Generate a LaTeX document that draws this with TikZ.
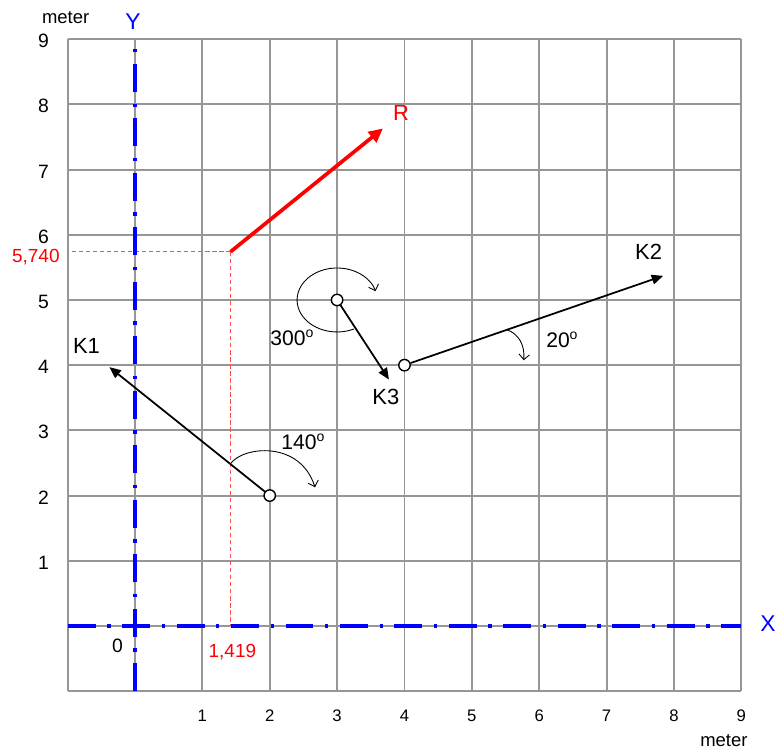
\documentclass[tikz,border=0pt]{standalone}
\usepackage{fontspec}
\setmainfont{Liberation Sans}
\usetikzlibrary{arrows.meta,calc}
\definecolor{gridgray}{RGB}{150,150,150}

\begin{document}
\begin{tikzpicture}[x=1.3474cm,y=1.304cm,
    axisline/.style={blue,line width=2.2pt,dash pattern=on 15.9pt off 6.6pt on 1.9pt off 6.6pt},
    vec/.style={-{Triangle[length=6.5pt,width=5.5pt]},line width=1pt},
    resvec/.style={red,-{Triangle[length=8pt,width=7.5pt]},line width=2.1pt},
    turn/.style={-{Straight Barb[length=3pt,width=6pt]},line width=0.5pt},
    joint/.style={circle,draw,fill=white,inner sep=0pt,minimum size=6.5pt,line width=0.8pt},
    proj/.style={red!70,dash pattern=on 2.5pt off 1.5pt,line width=0.4pt},
    lbl/.style={inner sep=0pt,anchor=base west,font=\fontsize{12.5}{14}\selectfont},
    anglbl/.style={inner sep=0pt,anchor=base west,font=\fontsize{12}{14}\selectfont},
    vallbl/.style={inner sep=0pt,anchor=base west,red,font=\fontsize{10.8}{13}\selectfont},
    unitlbl/.style={inner sep=0pt,anchor=base west,font=\fontsize{10.5}{12}\selectfont}]
    \useasboundingbox (-2.004,-1.887) rectangle (9.515,9.601);
    %Points
    \coordinate (xs) at (-1,0);
    \coordinate (xe) at (9,0);
    \coordinate (ys) at (0,-1);
    \coordinate (ye) at (0,9);
    \coordinate (Rs) at (1.419,5.740);
    \coordinate (Rtip) at (3.68,7.63);
    \coordinate (Ry) at (-1,5.740);
    \coordinate (Rx) at (1.419,0);
    \coordinate (K1tip) at (-0.38,3.97);
    \coordinate (K2tip) at (7.84,5.37);
    \coordinate (K3tip) at (3.77,3.78);
    %Grid
    \foreach \i in {-1,...,9} {
        \draw[gridgray,line width=1.1pt] (\i,-1) -- (\i,9);
        \draw[gridgray,line width=1.1pt] (-1,\i) -- (9,\i);
    }
    %Projection
    \draw[proj] (Rs) -- (Ry);
    \draw[proj] (Rs) -- (Rx);
    %Axis
    \draw[axisline] (xs) -- (xe);
    \draw[axisline] (ys) -- (ye);
    \node[blue,inner sep=0pt,anchor=base west,font=\fontsize{13}{15}\selectfont] (xlab) at (9.277,-0.087) {X};
    \node[blue,inner sep=0pt,anchor=base,font=\fontsize{13}{15}\selectfont] (ylab) at (-0.03,9.15) {Y};
    \foreach \i in {1,...,9} {
        \node[inner sep=0pt,anchor=base,font=\fontsize{9.5}{11}\selectfont] (xt\i) at (\i,-1.47) {\i};
        \node[inner sep=0pt,anchor=east,font=\fontsize{11}{13}\selectfont] (yt\i) at (-1.272,\i-0.03) {\i};
    }
    \node[inner sep=0pt,anchor=base west,font=\fontsize{11}{13}\selectfont] (zero) at (-0.346,-0.41) {0};
    \node[unitlbl] (munit1) at (-1.385,9.233) {meter};
    \node[unitlbl] (munit2) at (8.387,-1.851) {meter};
    %Joints
    \node[joint] (J1) at (2,2) {};
    \node[joint] (J2) at (4,4) {};
    \node[joint] (J3) at (3,5) {};
    %Vectors
    \draw[vec] (J1) -- (K1tip);
    \draw[vec] (J2) -- (K2tip);
    \draw[vec] (J3) -- (K3tip);
    \draw[resvec] (Rs) -- (Rtip);
    %Angles
    \coordinate (a1s) at ($(J1.center)!0.246!(K1tip)$);
    \coordinate (a1e) at (2.672,2.127);
    \draw[turn] (a1s) .. controls (1.60,2.76) and (2.45,2.85) .. (a1e);
    \coordinate (a2s) at ($(J2.center)!0.396!(K2tip)$);
    \coordinate (a2e) at (5.77,4.075);
    \draw[turn] (a2s) .. controls (5.70,4.48) and (5.79,4.30) .. (a2e);
    \draw[turn] ([shift={(-65:0.8cm and 0.64cm)}]J3.center) arc[start angle=-65,end angle=-344,x radius=0.8cm,y radius=0.64cm];
    %Labels
    \node[lbl] (K1) at (-0.925,4.18) {K1};
    \node[lbl] (K2) at (7.42,5.62) {K2};
    \node[lbl] (K3) at (3.52,3.40) {K3};
    \node[lbl,red] (R) at (3.825,7.76) {R};
    \node[anglbl] (ang1) at (2.167,2.71) {140\textsuperscript{o}};
    \node[anglbl] (ang2) at (6.10,4.274) {20\textsuperscript{o}};
    \node[anglbl] (ang3) at (2.004,4.30) {300\textsuperscript{o}};
    \node[vallbl] (Rylab) at (-1.83,5.572) {5,740};
    \node[vallbl] (Rxlab) at (1.088,-0.48) {1,419};
\end{tikzpicture}
\end{document}
